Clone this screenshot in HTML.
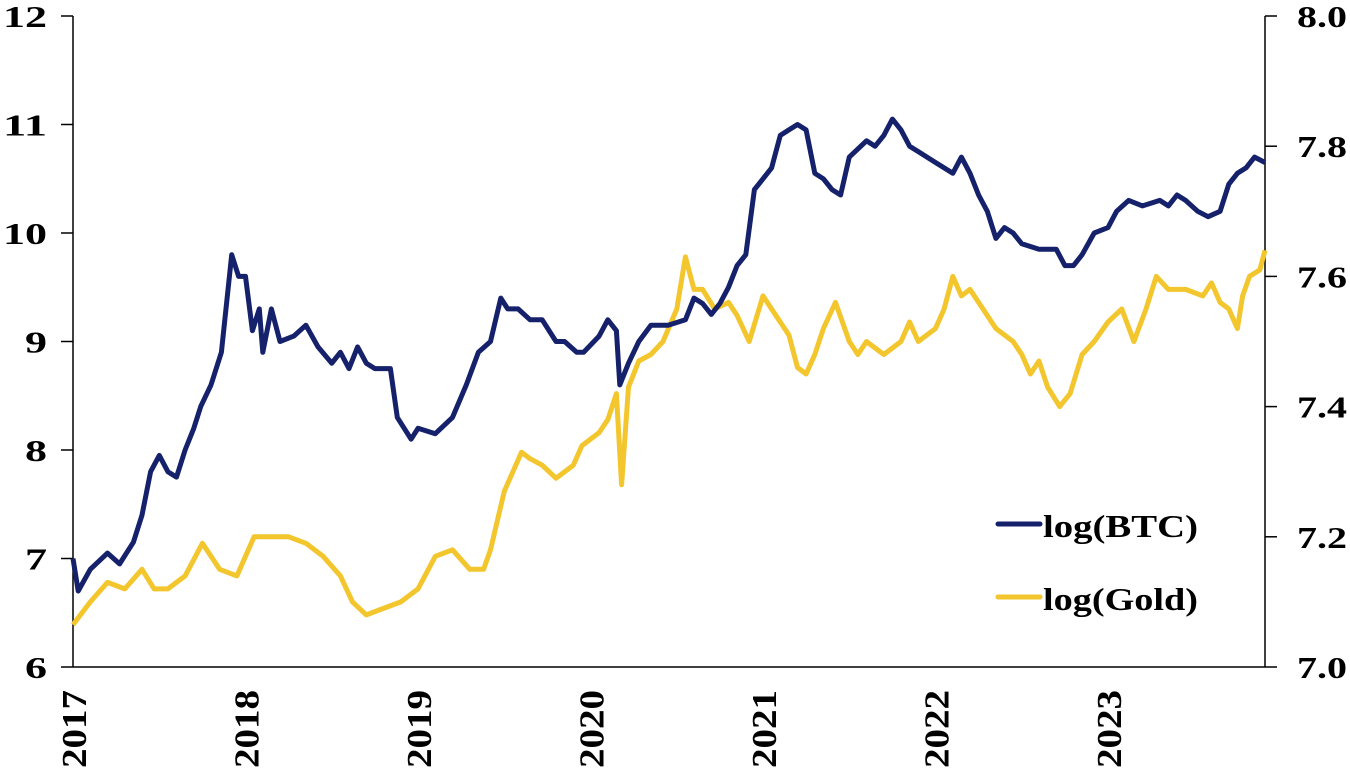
<!DOCTYPE html>
<html><head><meta charset="utf-8"><style>
html,body{margin:0;padding:0;background:#fff;}
svg{display:block;font-family:"Liberation Serif",serif;}
</style></head><body>
<svg id="chart" width="1350" height="773" viewBox="0 0 1350 773">
<g id="axes"></g>
<g id="series"></g>
<g id="legend">
<line x1="998" y1="524" x2="1040" y2="524" stroke="#15216a" stroke-width="5" stroke-linecap="round"/>
<text x="1043" y="537" font-size="32" font-weight="bold" textLength="155" lengthAdjust="spacingAndGlyphs">log(BTC)</text>
<line x1="998" y1="597" x2="1040" y2="597" stroke="#f2c62c" stroke-width="5" stroke-linecap="round"/>
<text x="1043" y="610" font-size="32" font-weight="bold" textLength="155" lengthAdjust="spacingAndGlyphs">log(Gold)</text>
</g>
</svg>
<script>
const leftTicks=[6,7,8,9,10,11,12];
const rightTicks=[7.0,7.2,7.4,7.6,7.8,8.0];
const yearTicks=[2017,2018,2019,2020,2021,2022,2023];
const btcT=[2017.0,2017.03,2017.1,2017.2,2017.27,2017.35,2017.4,2017.45,2017.5,2017.55,2017.6,2017.65,2017.7,2017.74,2017.8,2017.86,2017.92,2017.96,2018.0,2018.04,2018.08,2018.1,2018.15,2018.2,2018.28,2018.35,2018.42,2018.5,2018.55,2018.6,2018.65,2018.7,2018.75,2018.8,2018.84,2018.88,2018.92,2018.96,2019.0,2019.1,2019.2,2019.28,2019.35,2019.42,2019.48,2019.52,2019.58,2019.65,2019.72,2019.8,2019.85,2019.92,2019.96,2020.05,2020.1,2020.15,2020.17,2020.22,2020.28,2020.35,2020.45,2020.55,2020.6,2020.65,2020.7,2020.75,2020.8,2020.85,2020.9,2020.95,2021.0,2021.05,2021.1,2021.15,2021.2,2021.25,2021.3,2021.35,2021.4,2021.45,2021.5,2021.6,2021.65,2021.7,2021.75,2021.8,2021.85,2021.9,2022.0,2022.1,2022.15,2022.2,2022.25,2022.3,2022.35,2022.4,2022.45,2022.5,2022.6,2022.7,2022.75,2022.8,2022.85,2022.92,2023.0,2023.05,2023.12,2023.2,2023.3,2023.35,2023.4,2023.45,2023.52,2023.58,2023.65,2023.7,2023.75,2023.8,2023.85,2023.91];
const btcV=[7.0,6.7,6.9,7.05,6.95,7.15,7.4,7.8,7.95,7.8,7.75,8.0,8.2,8.4,8.6,8.9,9.8,9.6,9.6,9.1,9.3,8.9,9.3,9.0,9.05,9.15,8.95,8.8,8.9,8.75,8.95,8.8,8.75,8.75,8.75,8.3,8.2,8.1,8.2,8.15,8.3,8.6,8.9,9.0,9.4,9.3,9.3,9.2,9.2,9.0,9.0,8.9,8.9,9.05,9.2,9.1,8.6,8.8,9.0,9.15,9.15,9.2,9.4,9.35,9.25,9.35,9.5,9.7,9.8,10.4,10.5,10.6,10.9,10.95,11.0,10.95,10.55,10.5,10.4,10.35,10.7,10.85,10.8,10.9,11.05,10.95,10.8,10.75,10.65,10.55,10.7,10.55,10.35,10.2,9.95,10.05,10.0,9.9,9.85,9.85,9.7,9.7,9.8,10.0,10.05,10.2,10.3,10.25,10.3,10.25,10.35,10.3,10.2,10.15,10.2,10.45,10.55,10.6,10.7,10.65];
const goldT=[2017.0,2017.1,2017.2,2017.3,2017.4,2017.47,2017.55,2017.65,2017.75,2017.85,2017.95,2018.05,2018.15,2018.25,2018.35,2018.45,2018.55,2018.62,2018.7,2018.8,2018.9,2019.0,2019.1,2019.2,2019.3,2019.38,2019.42,2019.5,2019.55,2019.6,2019.65,2019.72,2019.8,2019.9,2019.95,2020.05,2020.1,2020.15,2020.18,2020.22,2020.28,2020.35,2020.42,2020.5,2020.55,2020.6,2020.65,2020.72,2020.8,2020.85,2020.92,2021.0,2021.05,2021.15,2021.2,2021.25,2021.3,2021.35,2021.42,2021.5,2021.55,2021.6,2021.65,2021.7,2021.8,2021.85,2021.9,2022.0,2022.05,2022.1,2022.15,2022.2,2022.3,2022.35,2022.45,2022.5,2022.55,2022.6,2022.65,2022.72,2022.78,2022.85,2022.92,2023.0,2023.08,2023.15,2023.22,2023.28,2023.35,2023.45,2023.55,2023.6,2023.65,2023.7,2023.75,2023.78,2023.82,2023.88,2023.91];
const goldV=[7.065,7.1,7.13,7.12,7.15,7.12,7.12,7.14,7.19,7.15,7.14,7.2,7.2,7.2,7.19,7.17,7.14,7.1,7.08,7.09,7.1,7.12,7.17,7.18,7.15,7.15,7.18,7.27,7.3,7.33,7.32,7.31,7.29,7.31,7.34,7.36,7.38,7.42,7.28,7.43,7.47,7.48,7.5,7.55,7.63,7.58,7.58,7.55,7.56,7.54,7.5,7.57,7.55,7.51,7.46,7.45,7.48,7.52,7.56,7.5,7.48,7.5,7.49,7.48,7.5,7.53,7.5,7.52,7.55,7.6,7.57,7.58,7.54,7.52,7.5,7.48,7.45,7.47,7.43,7.4,7.42,7.48,7.5,7.53,7.55,7.5,7.55,7.6,7.58,7.58,7.57,7.59,7.56,7.55,7.52,7.57,7.6,7.61,7.64];

const X0=73,X1=1265,Y0=16,Y1=667;
const xs=t=>X0+(t-2017)*(X1-X0)/6.91;
const yl=v=>Y1-(v-6)*(Y1-Y0)/6;
const yr=v=>Y1-(v-7)*(Y1-Y0)/1;
const NS='http://www.w3.org/2000/svg';
function mk(tag,attrs,parent,txt){const e=document.createElementNS(NS,tag);for(const k in attrs)e.setAttribute(k,attrs[k]);if(txt!==undefined)e.textContent=txt;parent.appendChild(e);return e;}
const ax=document.getElementById('axes');
let e;
e=mk('line',{x1:X0,y1:Y0,x2:X0,y2:Y1,stroke:'#000','stroke-width':1.5},ax);


e=mk('line',{x1:X1,y1:Y0,x2:X1,y2:Y1,stroke:'#000','stroke-width':1.5},ax);


e=mk('line',{x1:X0,y1:Y1,x2:X1,y2:Y1,stroke:'#000','stroke-width':1.5},ax);


leftTicks.forEach(v=>{const y=yl(v);const s=String(v);
 e=mk('line',{x1:X0-12,y1:y,x2:X0,y2:y,stroke:'#000','stroke-width':1.5},ax);
 
 
 e=mk('text',{x:47,y:y+11,'font-size':31,'font-weight':'bold','text-anchor':'end',textLength:s.length*22,lengthAdjust:'spacingAndGlyphs'},ax,s);
 
 
});
rightTicks.forEach(v=>{const y=yr(v);
 e=mk('line',{x1:X1,y1:y,x2:X1+12,y2:y,stroke:'#000','stroke-width':1.5},ax);
 
 
 e=mk('text',{x:1297,y:y+11,'font-size':31,'font-weight':'bold',textLength:50,lengthAdjust:'spacingAndGlyphs'},ax,v.toFixed(1));
 
 
});
yearTicks.forEach(t=>{const x=xs(t);
 e=mk('text',{x:0,y:0,'font-size':35,'font-weight':'bold','text-anchor':'end',textLength:78,lengthAdjust:'spacingAndGlyphs',transform:`translate(${x+13},${Y1+23}) rotate(-90)`},ax,String(t));
 
 
});
const sg=document.getElementById('series');
let d=goldT.map((t,i)=>(i?'L':'M')+xs(t).toFixed(1)+' '+yr(goldV[i]).toFixed(1)).join('');
e=mk('path',{d:d,fill:'none',stroke:'#f2c62c','stroke-width':5,'stroke-linejoin':'round'},sg);


d=btcT.map((t,i)=>(i?'L':'M')+xs(t).toFixed(1)+' '+yl(btcV[i]).toFixed(1)).join('');
e=mk('path',{d:d,fill:'none',stroke:'#15216a','stroke-width':5,'stroke-linejoin':'round'},sg);


</script>
</body></html>
